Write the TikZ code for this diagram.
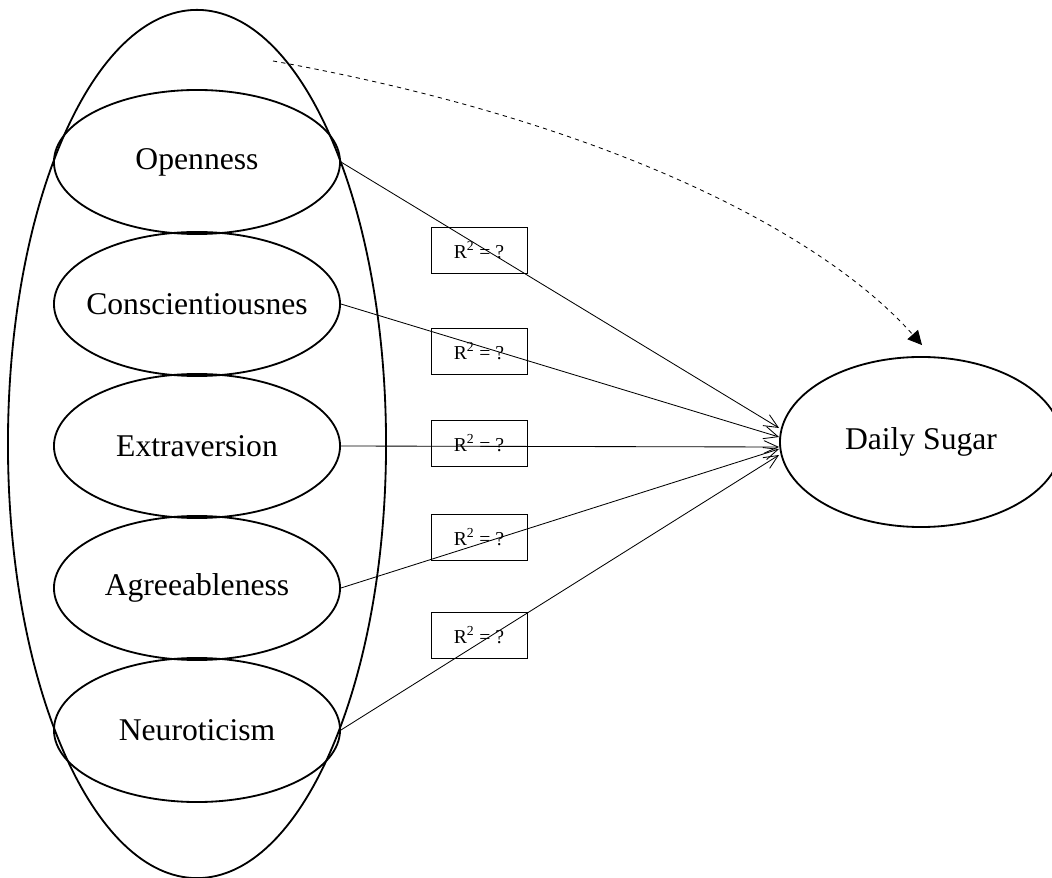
\documentclass[tikz,border=0pt]{standalone}
\usepackage{fontspec}
\setmainfont{Liberation Serif}
\usetikzlibrary{shapes.geometric,arrows.meta}
\def\px{0.025cm}

\begin{document}
\begin{tikzpicture}[x=\px,y=-\px,>={Straight Barb[length=10pt,width=9pt]}]
    \tikzstyle{trait}=[ellipse,draw,line width=1.3pt,minimum width=7.15cm,minimum height=3.6cm,inner sep=0pt,font=\fontsize{22.5}{26}\selectfont]
    \tikzstyle{outcome}=[trait,minimum width=7.05cm,minimum height=4.25cm]
    \tikzstyle{group}=[ellipse,draw,line width=1.3pt,minimum width=9.45cm,minimum height=21.7cm,inner sep=0pt]
    \tikzstyle{rbox}=[draw,line width=0.6pt,minimum width=2.4cm,minimum height=1.15cm,inner sep=0pt,font=\fontsize{14}{16}\selectfont]
    \tikzstyle{link}=[->,line width=0.6pt]
    \tikzstyle{overall}=[dashed,line width=0.6pt,-{Triangle[length=10pt,width=10pt]}]

    \clip (0,0) rectangle (1052,878);

    % Draw the group of traits
    \node[group] (traits) at (197,444) {};

    % Draw the trait nodes
    \foreach \name/\y/\txt in {open/162/Openness,consc/304/Conscientiousnes,extra/446/Extraversion,agree/588/Agreeableness,neuro/730/Neuroticism}
        \node[trait] (\name) at (197,\y) {\makebox[0pt]{\txt}};

    % Draw the outcome node
    \node[outcome] (sugar) at (921,442) {\makebox[0pt]{Daily Sugar}};

    % Draw the R^2 boxes
    \foreach \i/\y in {1/250,2/351,3/443,4/537,5/635}
        \node[rbox] (r\i) at (479,\y) {R\textsuperscript{2} = ?};

    % Connect every trait with the outcome
    \foreach \name/\dy in {open/14,consc/5,extra/-5,agree/-7,neuro/-13}
        \draw[link] (\name.east) -- ([yshift=\dy*\px]sugar.west);

    % Connect the whole group with the outcome
    \coordinate (start) at (273,61);
    \draw[overall] (start) .. controls (600,120) and (820,230) .. ([shift={(1,-11)}]sugar.north);
\end{tikzpicture}
\end{document}
